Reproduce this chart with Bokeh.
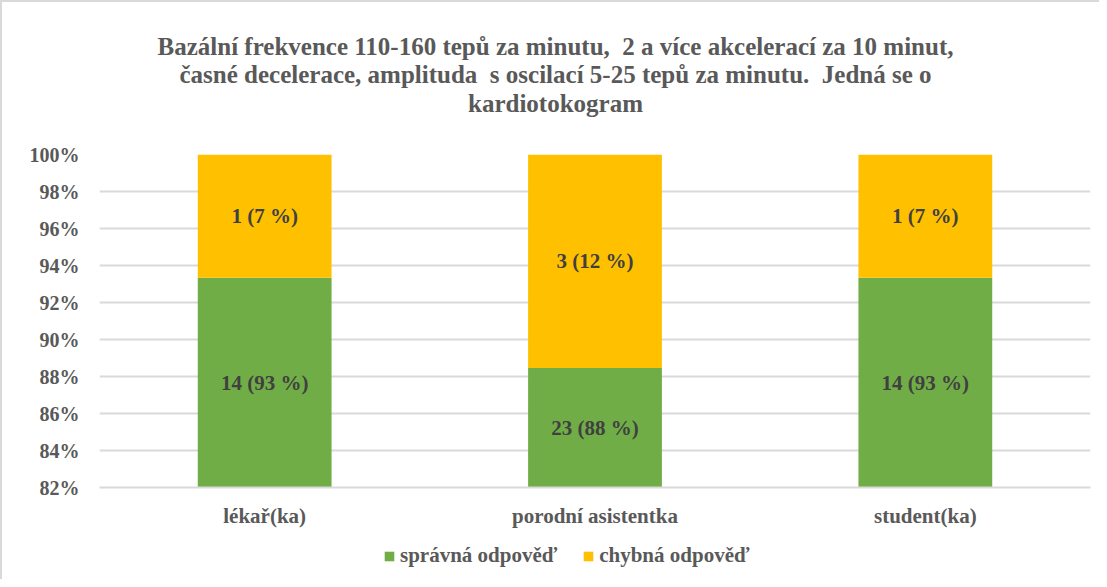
from bokeh.plotting import figure
from bokeh.layouts import column
from bokeh.models import (ColumnDataSource, Legend, LegendItem, NumeralTickFormatter,
                          FixedTicker, Range1d)
from bokeh.embed import file_html
from bokeh.resources import INLINE

categories = ["lékař(ka)", "porodní asistentka", "student(ka)"]
correct = [14, 23, 14]
wrong = [1, 3, 1]
title_lines = [
    "Bazální frekvence 110-160 tepů za minutu,  2 a více akcelerací za 10 minut,",
    "časné decelerace, amplituda  s oscilací 5-25 tepů za minutu.  Jedná se o",
    "kardiotokogram",
]
series_names = ["správná odpověď", "chybná odpověď"]
y_ticks = [0.82, 0.84, 0.86, 0.88, 0.90, 0.92, 0.94, 0.96, 0.98, 1.00]

GREEN = "#70ad47"
YELLOW = "#ffc000"
GREY = "#595959"
DARK = "#404040"
FONT = "Liberation Serif"

totals = [c + w for c, w in zip(correct, wrong)]
frac_c = [c / t for c, t in zip(correct, totals)]
ymin = y_ticks[0]

src = ColumnDataSource(dict(
    cat=categories,
    zero=[0.0] * 3,
    fc=frac_c,
    one=[1.0] * 3,
    lab_c=[f"{c} ({round(100 * c / t)} %)" for c, t in zip(correct, totals)],
    lab_w=[f"{w} ({round(100 * w / t)} %)" for w, t in zip(wrong, totals)],
    yc=[(ymin + f) / 2 for f in frac_c],
    yw=[(f + 1) / 2 for f in frac_c],
))

W = 1097
H_T, H_M, H_L = 140, 390, 47
BL, BR = 97, 9   # frame borders shared by all stacked figures


def blank(h):
    # frame spans canvas x in [BL, W-BR]; data x equals canvas x
    f = figure(width=W, height=h, x_range=Range1d(BL, W - BR), y_range=Range1d(0, h),
               output_backend="svg", toolbar_location=None,
               x_axis_location=None, y_axis_location=None,
               min_border_left=BL, min_border_right=BR,
               min_border_top=0, min_border_bottom=0)
    f.grid.visible = False
    f.outline_line_color = None
    return f


# ---- title figure ----
pt = blank(H_T)
tsrc = ColumnDataSource(dict(
    x=[553] * len(title_lines),
    y=[96, 68, 39][:len(title_lines)],
    t=[s.replace("  ", " \u00a0") for s in title_lines],
))
pt.text(x="x", y="y", text="t", source=tsrc, text_align="center", text_baseline="middle",
        text_font=FONT, text_font_style="bold", text_font_size="25px", text_color=GREY)

# ---- main figure ----
p = figure(x_range=categories, y_range=(ymin, 1.0), width=W, height=H_M,
           output_backend="svg", toolbar_location=None,
           min_border_left=BL, min_border_right=BR, min_border_top=12, min_border_bottom=45)

r1 = p.vbar(x="cat", bottom="zero", top="fc", width=0.405, source=src,
            fill_color=GREEN, line_color=None)
r2 = p.vbar(x="cat", bottom="fc", top="one", width=0.405, source=src,
            fill_color=YELLOW, line_color=None)

p.text(x="cat", y="yc", text="lab_c", source=src, text_align="center", text_baseline="middle",
       text_font=FONT, text_font_style="bold", text_font_size="21px", text_color=DARK)
p.text(x="cat", y="yw", text="lab_w", source=src, text_align="center", text_baseline="middle",
       text_font=FONT, text_font_style="bold", text_font_size="21px", text_color=DARK)

p.outline_line_color = None
p.xgrid.grid_line_color = None
p.ygrid.grid_line_color = "#d9d9d9"
p.ygrid.grid_line_width = 2
p.yaxis.ticker = FixedTicker(ticks=y_ticks)
p.yaxis.formatter = NumeralTickFormatter(format="0%")
p.yaxis.axis_line_color = None
p.yaxis.major_tick_line_color = None
p.yaxis.minor_tick_line_color = None
p.yaxis.major_label_standoff = 14
p.xaxis.axis_line_color = "#d9d9d9"
p.xaxis.axis_line_width = 2
p.xaxis.major_tick_line_color = None
p.xaxis.minor_tick_line_color = None
p.xaxis.major_label_standoff = 10
p.yaxis.major_label_text_font_size = "20px"
p.xaxis.major_label_text_font_size = "21px"
for ax in (p.xaxis, p.yaxis):
    ax.major_label_text_font = FONT
    ax.major_label_text_font_style = "bold"
    ax.major_label_text_color = GREY

# ---- legend figure ----
pl = blank(H_L)
nan = float("nan")
sw = ColumnDataSource(dict(x=[nan], top=[nan]))
g1 = pl.vbar(x="x", top="top", width=1, source=sw, fill_color=GREEN, line_color=None)
g2 = pl.vbar(x="x", top="top", width=1, source=sw, fill_color=YELLOW, line_color=None)
legend = Legend(items=[LegendItem(label=series_names[0], renderers=[g1], index=0),
                       LegendItem(label=series_names[1], renderers=[g2], index=0)],
                orientation="horizontal", location=(381 - BL, 11),
                label_text_font=FONT, label_text_font_style="bold", label_text_font_size="21px",
                label_text_color=GREY, glyph_width=12, glyph_height=12, spacing=25,
                label_standoff=5, border_line_color=None, background_fill_alpha=0,
                margin=0, padding=0)
pl.add_layout(legend, "center")

layout = column(pt, p, pl, spacing=0)
layout.styles = {"border-left": "2px solid #d9d9d9", "border-top": "2px solid #d9d9d9"}

open("out.html", "w").write(file_html(layout, INLINE))
